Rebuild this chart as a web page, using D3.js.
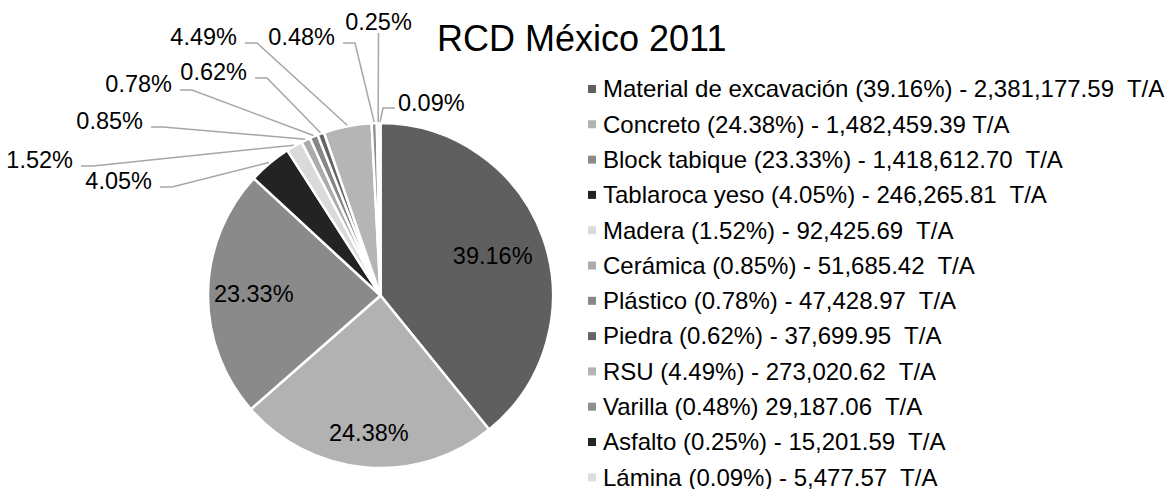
<!doctype html>
<html>
<head>
<meta charset="utf-8">
<script src="https://d3js.org/d3.v7.min.js"></script>
<style>
    body { margin: 0; background: #fff; }
    svg text {
        font-family: "Liberation Sans", Arial, sans-serif;
        fill: #000;
        white-space: pre;
    }
</style>
</head>
<body>
<script>
    // data
    var categories = ["Material de excavación", "Concreto", "Block tabique", "Tablaroca yeso",
                      "Madera", "Cerámica", "Plástico", "Piedra", "RSU", "Varilla", "Asfalto", "Lámina"];
    var values = [2381177.59, 1482459.39, 1418612.70, 246265.81, 92425.69, 51685.42,
                  47428.97, 37699.95, 273020.62, 29187.06, 15201.59, 5477.57];
    var legendLabels = [
        "Material de excavación (39.16%) - 2,381,177.59  T/A",
        "Concreto (24.38%) - 1,482,459.39 T/A",
        "Block tabique (23.33%) - 1,418,612.70  T/A",
        "Tablaroca yeso (4.05%) - 246,265.81  T/A",
        "Madera (1.52%) - 92,425.69  T/A",
        "Cerámica (0.85%) - 51,685.42  T/A",
        "Plástico (0.78%) - 47,428.97  T/A",
        "Piedra (0.62%) - 37,699.95  T/A",
        "RSU (4.49%) - 273,020.62  T/A",
        "Varilla (0.48%) 29,187.06  T/A",
        "Asfalto (0.25%) - 15,201.59  T/A",
        "Lámina (0.09%) - 5,477.57  T/A"
    ];
    var title = "RCD México 2011";

    var colors = ["#5f5f5f", "#b2b2b2", "#8a8a8a", "#232323", "#dadada", "#ababab",
                  "#878787", "#646464", "#b5b5b5", "#8e8e8e", "#262626", "#dedede"];

    // label layout: inside labels use a radius fraction, outside ones an elbow point for the leader
    var insideR = [0.69, 0.80, 0.735];
    var elbows = [null, null, null,
                  [172, 187, "left"], [93, 166, "left"], [163, 127, "left"], [192, 90, "left"],
                  [267, 78, "left"], [257, 43, "left"], [355, 43, "left"], [378.5, 33, "up"],
                  [383, 108, "right"]];

    var W = 1173, H = 489,
        cx = 380.5, cy = 295.5, R = 172.5;

    var svg = d3.select("body").append("svg")
        .attr("width", W)
        .attr("height", H);

    var total = d3.sum(values);
    var pct = d3.format(".2%");

    var pie = d3.pie().sort(null).value(function(d) { return d; });
    var arcs = pie(values);

    var arc = d3.arc().innerRadius(0).outerRadius(R);
    var edgeArc = d3.arc().innerRadius(R + 1).outerRadius(R + 1);

    var g = svg.append("g").attr("transform", "translate(" + cx + "," + cy + ")");

    g.selectAll("path.slice")
        .data(arcs)
        .enter()
        .append("path")
        .attr("class", "slice")
        .attr("d", arc)
        .attr("fill", function(d, i) { return colors[i]; })
        .attr("stroke", "#fff")
        .attr("stroke-width", 2.5)
        .attr("stroke-linejoin", "round");

    // inside labels
    arcs.forEach(function(d, i) {
        if (elbows[i]) return;
        var k = insideR[i] * R;
        var c = d3.arc().innerRadius(k).outerRadius(k).centroid(d);
        g.append("text")
            .attr("x", c[0])
            .attr("y", c[1])
            .attr("dy", "0.35em")
            .attr("text-anchor", "middle")
            .style("font-size", "23.5px")
            .text(pct(d.value / total));
    });

    // outside labels with leader lines (in page coordinates)
    arcs.forEach(function(d, i) {
        var e = elbows[i];
        if (!e) return;
        var p = edgeArc.centroid(d);
        var px = cx + p[0], py = cy + p[1];
        var pts = [[px, py], [e[0], e[1]]];
        var tx, anchor, ty = e[1] + 1.5;
        if (e[2] === "left") {
            pts.push([e[0] - 12, e[1]]);
            tx = e[0] - 20; anchor = "end";
        } else if (e[2] === "right") {
            pts.push([e[0] + 12, e[1]]);
            tx = e[0] + 15; anchor = "start";
            ty = e[1] + 3;
        } else {
            tx = e[0]; anchor = "middle";
            ty = e[1] - 3;
        }
        svg.append("path")
            .attr("d", d3.line()(pts))
            .attr("fill", "none")
            .attr("stroke", "#a6a6a6")
            .attr("stroke-width", 1.5);
        svg.append("text")
            .attr("x", tx)
            .attr("y", ty)
            .attr("text-anchor", anchor)
            .style("font-size", "23.5px")
            .text(pct(d.value / total));
    });

    // title
    svg.append("text")
        .attr("x", 437)
        .attr("y", 51)
        .style("font-size", "36px")
        .text(title);

    // legend
    var rowY = d3.scalePoint().domain(categories).range([89, 89 + 35.3 * 11]);
    var legend = svg.selectAll("g.legend")
        .data(categories)
        .enter()
        .append("g")
        .attr("class", "legend")
        .attr("transform", function(d) { return "translate(588," + rowY(d) + ")"; });

    legend.append("rect")
        .attr("x", 0)
        .attr("y", -4)
        .attr("width", 8)
        .attr("height", 8)
        .attr("fill", function(d, i) { return colors[i]; });

    legend.append("text")
        .attr("x", 15)
        .attr("y", 8.3)
        .style("font-size", "24px")
        .text(function(d, i) { return legendLabels[i]; });
</script>
</body>
</html>
